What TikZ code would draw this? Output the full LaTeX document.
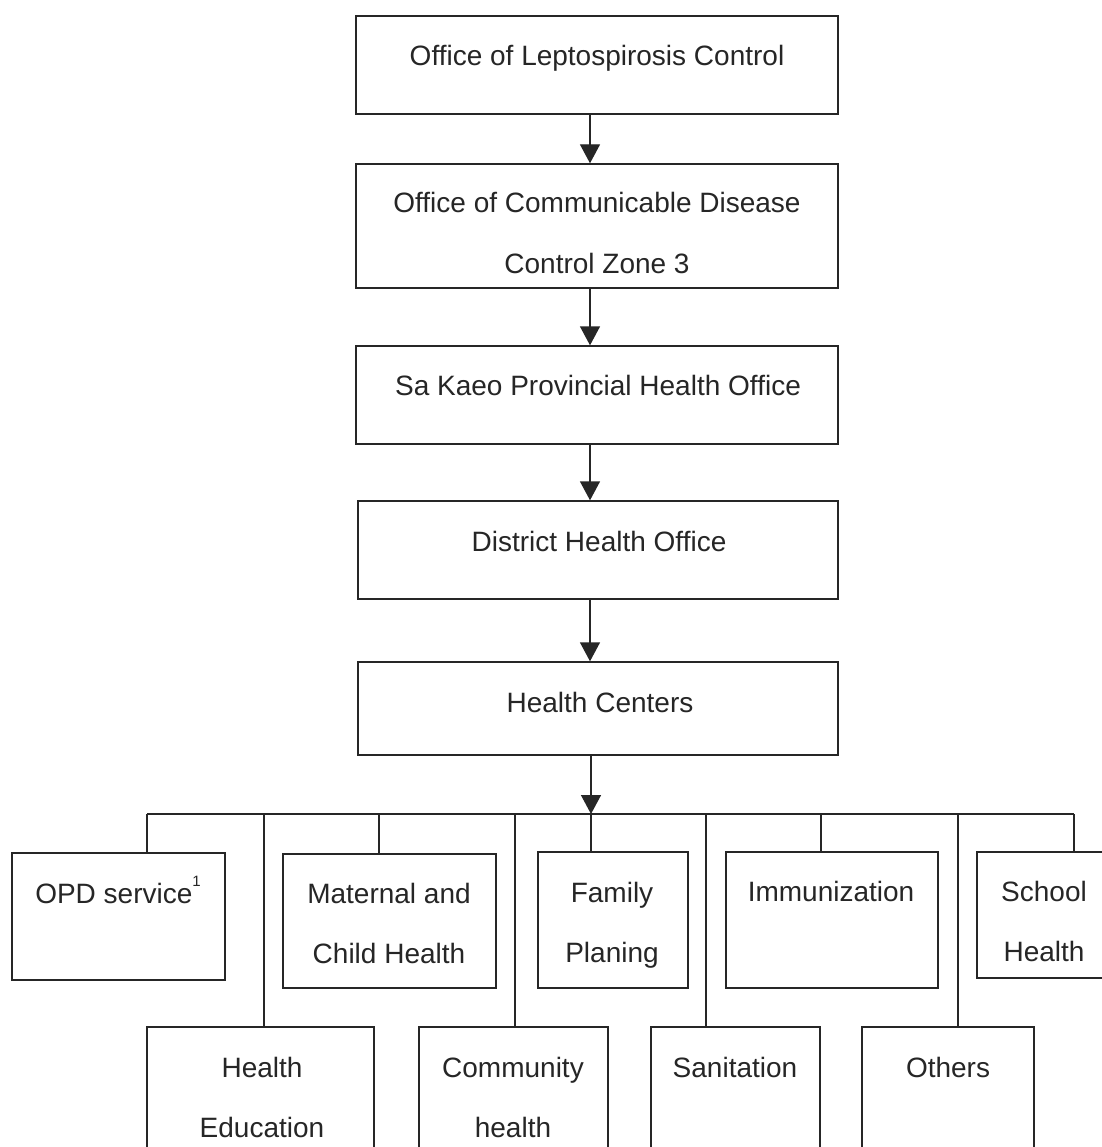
\documentclass[tikz,border=0pt]{standalone}
\usepackage{fontspec}
\setmainfont{Liberation Sans}
\usetikzlibrary{arrows.meta}
\begin{document}
\begin{tikzpicture}[x=1pt,y=-1pt,
  boxnode/.style={draw=black!85, line width=1.4pt, rectangle, inner sep=0pt},
  txt/.style={inner sep=0pt, anchor=base, text=black!85, font=\fontsize{28}{60}\selectfont, align=center},
  conn/.style={draw=black!85, line width=1.4pt},
  arr/.style={conn, -{Triangle[width=20pt,length=19pt]}}]
\useasboundingbox[fill=white] (0,0) rectangle (1101,1147);
% top chain boxes
\node[boxnode, minimum width=482pt, minimum height=98pt] (b1) at (597,65) {};
\node[boxnode, minimum width=482pt, minimum height=124pt] (b2) at (597,226) {};
\node[boxnode, minimum width=482pt, minimum height=98pt] (b3) at (597,395) {};
\node[boxnode, minimum width=480pt, minimum height=98pt] (b4) at (598,550) {};
\node[boxnode, minimum width=480pt, minimum height=93pt] (b5) at (598,708.5) {};
% (base anchor of a two-line node is the baseline of its last line)
\node[txt] (t1) at (597,66) {Office of Leptospirosis Control};
\node[txt] (t2) at (597,273) {Office of Communicable Disease\\Control Zone 3};
\node[txt] (t3) at (598,395) {Sa Kaeo Provincial Health Office};
\node[txt] (t4) at (599,551) {District Health Office};
\node[txt] (t5) at (600,712) {Health Centers};
% arrows
\coordinate (ax) at (590,0);
\draw[arr] (b1.south -| ax) -- (b2.north -| ax);
\draw[arr] (b2.south -| ax) -- (b3.north -| ax);
\draw[arr] (b3.south -| ax) -- (b4.north -| ax);
\draw[arr] (b4.south -| ax) -- (b5.north -| ax);
% bus
\coordinate (busL) at (147,814);
\coordinate (busR) at (1074,814);
\coordinate (busA) at (591,814);
\draw[conn] (busL) -- (busR);
\draw[arr] (b5.south -| busA) -- (busA);
% bottom boxes
\node[boxnode, minimum width=213pt, minimum height=127pt] (opd) at (118.5,916.5) {};
\node[boxnode, minimum width=213pt, minimum height=134pt] (mat) at (389.5,921) {};
\node[boxnode, minimum width=150pt, minimum height=136pt] (fam) at (613,920) {};
\node[boxnode, minimum width=212pt, minimum height=136pt] (imm) at (832,920) {};
\node[boxnode, minimum width=134pt, minimum height=126pt] (sch) at (1044,915) {};
\node[boxnode, minimum width=227pt, minimum height=143pt] (he) at (260.5,1098.5) {};
\node[boxnode, minimum width=189pt, minimum height=143pt] (com) at (513.5,1098.5) {};
\node[boxnode, minimum width=169pt, minimum height=143pt] (san) at (735.5,1098.5) {};
\node[boxnode, minimum width=172pt, minimum height=143pt] (oth) at (948,1098.5) {};
% bottom texts
\node[txt] (topd) at (118,903) {OPD service\raisebox{17pt}{\fontsize{15}{15}\selectfont 1}};
\node[txt] (tmat) at (389,963) {Maternal and\\Child Health};
\node[txt] (tfam) at (612,962) {Family\\Planing};
\node[txt] (timm) at (831,901) {Immunization};
\node[txt] (tsch) at (1044,961) {School\\Health};
\node[txt] (the) at (262,1137) {Health\\Education};
\node[txt] (tcom) at (513,1137) {Community\\health};
\node[txt] (tsan) at (735,1077) {Sanitation};
\node[txt] (toth) at (948,1077) {Others};
% drops
\coordinate (d1) at (147,814);
\coordinate (d2) at (264,814);
\coordinate (d3) at (379,814);
\coordinate (d4) at (515,814);
\coordinate (d5) at (591,814);
\coordinate (d6) at (706,814);
\coordinate (d7) at (821,814);
\coordinate (d8) at (958,814);
\coordinate (d9) at (1074,814);
\draw[conn] (d1) -- (d1 |- opd.north);
\draw[conn] (d2) -- (d2 |- he.north);
\draw[conn] (d3) -- (d3 |- mat.north);
\draw[conn] (d4) -- (d4 |- com.north);
\draw[conn] (d5) -- (d5 |- fam.north);
\draw[conn] (d6) -- (d6 |- san.north);
\draw[conn] (d7) -- (d7 |- imm.north);
\draw[conn] (d8) -- (d8 |- oth.north);
\draw[conn] (d9) -- (d9 |- sch.north);
\end{tikzpicture}
\end{document}
